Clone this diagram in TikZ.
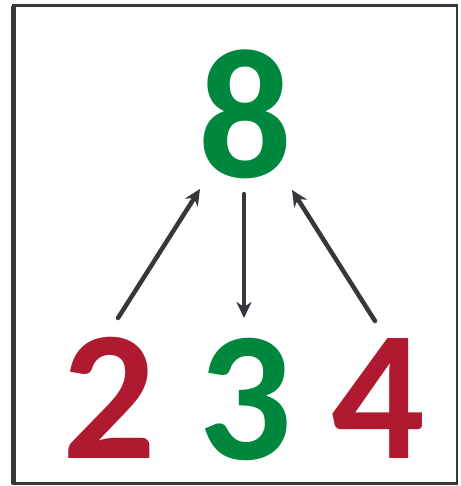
\documentclass[tikz,border=0pt]{standalone}
\usepackage{fontspec}
\setmainfont{Carlito}
\usetikzlibrary{arrows.meta}
\definecolor{numgreen}{HTML}{00873E}
\definecolor{numred}{HTML}{B01A31}
\definecolor{pen}{HTML}{35383C}

\begin{document}
\begin{tikzpicture}[x=1pt, y=-1pt,
    digit/.style={anchor=base, inner sep=0pt, font=\fontsize{185}{185}\selectfont\bfseries},
    arr/.style={pen, line width=4.5pt, line cap=round, -{Stealth[length=16pt, width=15pt, inset=5pt]}}]
  \useasboundingbox (0,0) rectangle (460,486);
  % frame
  \draw[pen, line width=5pt] (13,6) -- (13,484);
  \draw[pen, line width=3pt] (12,6) -- (458,6);
  \draw[pen, line width=2.5pt] (457,6) -- (457,484);
  \draw[pen, line width=3pt] (12,483) -- (458,483);
  % numbers
  \node[digit, text=numgreen] (eight) at (245,178) {8};
  \node[digit, text=numred] (two) at (109,458) {2};
  \node[digit, text=numgreen] (three) at (245,459) {3};
  \node[digit, text=numred] (four) at (378,458) {4};
  % arrow ends
  \coordinate (fromtwo) at (118,318);
  \coordinate (toeightl) at (200,189);
  \coordinate (fromeight) at (244,194);
  \coordinate (tothree) at (244,318);
  \coordinate (fromfour) at (375,321);
  \coordinate (toeightr) at (292,190);
  \draw[arr] (fromtwo) -- (toeightl);
  \draw[arr] (fromeight) -- (tothree);
  \draw[arr] (fromfour) -- (toeightr);
\end{tikzpicture}
\end{document}
